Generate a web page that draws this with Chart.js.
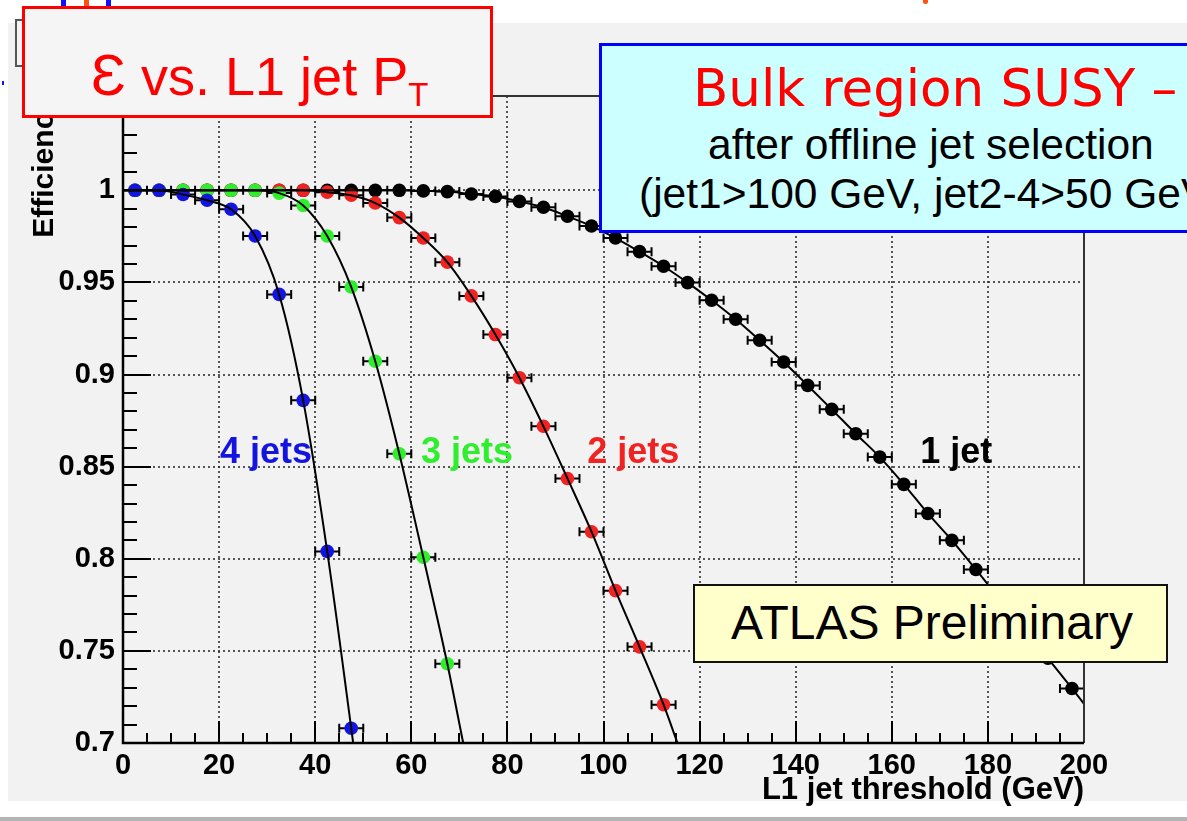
<!DOCTYPE html>
<html>
<head>
<meta charset="utf-8">
<title>Efficiency vs. L1 jet threshold</title>
<script src="https://cdn.jsdelivr.net/npm/chart.js@4.4.1/dist/chart.umd.min.js"></script>
<style>
  html, body { margin: 0; padding: 0; background: #fff; }
  body { width: 1187px; height: 821px; position: relative; overflow: hidden; font-family: 'Liberation Sans', Arial, sans-serif; }
  #panel { position: absolute; left: 8px; top: 23px; width: 1179px; height: 778px; background: #f2f2f2; }
  #bottomLine { position: absolute; left: 0; top: 817px; width: 1187px; height: 4px; background: #b4b4b4; }
  #wrap { position: absolute; left: 0; top: 0; width: 1187px; height: 821px; }
  .box { position: absolute; box-sizing: border-box; }
  .mark { position: absolute; }
  #rootTitle { left: 15px; top: 19px; width: 90px; height: 48px; border: 2px solid #555; background: #f4f4f4; }
  #titleBox { left: 22px; top: 6px; width: 471px; height: 112px; border: 3px solid #ff0000; background: #f5f5f5; }
  #selBox { left: 599px; top: 43px; width: 640px; height: 190px; border: 3px solid #0000ff; background: #ccffff; }
  #atlasBox { left: 693px; top: 584px; width: 475px; height: 79px; border: 2px solid #111; background: #ffffcc; }
  .txt { position: absolute; white-space: nowrap; line-height: 1; }
</style>
</head>
<body>
<div id="panel"></div>
<div id="bottomLine"></div>

<!-- leftovers of the slide around the plot -->
<div class="mark" style="left:61px;top:0;width:5px;height:6px;background:#1010ff"></div>
<div class="mark" style="left:84px;top:0;width:5px;height:7px;background:#ff5010"></div>
<div class="mark" style="left:106px;top:0;width:5px;height:6px;background:#1010ff"></div>
<div class="mark" style="left:2px;top:81px;width:2px;height:4px;background:#1010ff"></div>
<div class="mark" style="left:923px;top:0;width:5px;height:4px;background:#ff5010;border-radius:0 0 3px 3px"></div>

<div class="box" id="rootTitle"></div>

<div id="wrap"><canvas id="effChart"></canvas></div>

<div class="box" id="titleBox"></div>
<div class="txt" style="left:91px;top:46px;font-size:54px;color:#ff0000"><span style="font-size:58px">Ɛ</span> vs. L1 jet P<span style="font-size:33px;position:relative;top:11px">T</span></div>

<div class="box" id="selBox"></div>
<div class="txt" style="left:693px;top:62px;font-size:52px;color:#ff0000;font-family:'Comic Sans MS','DejaVu Sans',sans-serif;transform:scaleX(0.99);transform-origin:left">Bulk region SUSY –</div>
<div class="txt" style="left:708px;top:124px;font-size:42.5px;color:#000">after offline jet selection</div>
<div class="txt" style="left:639px;top:173px;font-size:42.5px;color:#000">(jet1&gt;100 GeV, jet2-4&gt;50 GeV)</div>

<div class="box" id="atlasBox"></div>
<div class="txt" style="left:731px;top:599px;font-size:48px;color:#000">ATLAS Preliminary</div>

<script>
// bin centres of the L1 threshold scan (GeV), 5 GeV bins
const binCenters = [2.5, 7.5, 12.5, 17.5, 22.5, 27.5, 32.5, 37.5, 42.5, 47.5,
  52.5, 57.5, 62.5, 67.5, 72.5, 77.5, 82.5, 87.5, 92.5, 97.5,
  102.5, 107.5, 112.5, 117.5, 122.5, 127.5, 132.5, 137.5, 142.5, 147.5,
  152.5, 157.5, 162.5, 167.5, 172.5, 177.5, 182.5, 187.5, 192.5, 197.5];
const binHalfWidth = 2.5;

// efficiencies
const eff4jets = [1, 1, 0.9977, 0.9946, 0.9897, 0.9752, 0.9435, 0.886, 0.804, 0.708];
const eff3jets = [1, 1, 1, 1, 1, 1, 0.9985, 0.9918, 0.9752, 0.9475, 0.9072, 0.857, 0.8008, 0.743];
const eff2jets = [1, 1, 1, 1, 1, 1, 1, 1, 0.999, 0.9973, 0.9931, 0.9852, 0.9741, 0.961,
  0.9427, 0.9217, 0.8983, 0.8719, 0.8436, 0.8147, 0.7827, 0.7522, 0.7208];
const eff1jet = [1, 1, 1, 1, 1, 1, 1, 1, 1, 1, 1, 1, 0.9997, 0.9993, 0.998, 0.9967,
  0.994, 0.9908, 0.9859, 0.9806, 0.9741, 0.9667, 0.9588, 0.9499, 0.9403, 0.930,
  0.9186, 0.9068, 0.8941, 0.8811, 0.8679, 0.8552, 0.8404, 0.8246, 0.81, 0.7942,
  0.778, 0.762, 0.746, 0.7296];

// where each fit curve leaves the frame [x, y]
const fitEnd4 = [47.9, 0.7];
const fitEnd3 = [70.8, 0.7];
const fitEnd2 = [115.4, 0.7];
const fitEnd1 = [200, 0.7213];

const seriesNames = ['4 jets', '3 jets', '2 jets', '1 jet'];
const seriesColors = ['#1414e0', '#2eee2e', '#f02222', '#000000'];

const xTickValues = [0, 20, 40, 60, 80, 100, 120, 140, 160, 180, 200];
const xTickLabels = ['0', '20', '40', '60', '80', '100', '120', '140', '160', '180', '200'];
const yTickValues = [0.7, 0.75, 0.8, 0.85, 0.9, 0.95, 1];
const yTickLabels = ['0.7', '0.75', '0.8', '0.85', '0.9', '0.95', '1'];

const FONT = "'Liberation Sans', Arial, sans-serif";

function toPoints(vals) {
  return vals.map((v, i) => ({ x: binCenters[i], y: v }));
}
function fitPoints(vals, end) {
  return [{ x: 0, y: 1 }].concat(toPoints(vals), [{ x: end[0], y: end[1] }]);
}

const effSets = [eff4jets, eff3jets, eff2jets, eff1jet];
const fitEnds = [fitEnd4, fitEnd3, fitEnd2, fitEnd1];

const datasets = [];
// fit curves on top
effSets.forEach((vals, i) => {
  datasets.push({
    label: seriesNames[i] + ' fit',
    data: fitPoints(vals, fitEnds[i]),
    showLine: true,
    borderColor: '#000',
    borderWidth: 2,
    pointRadius: 0,
    cubicInterpolationMode: 'monotone',
    order: 0
  });
});
// markers, 4 jets drawn last (on top)
effSets.forEach((vals, i) => {
  datasets.push({
    label: seriesNames[i],
    data: toPoints(vals),
    showLine: false,
    backgroundColor: seriesColors[i],
    borderWidth: 0,
    pointRadius: 6.8,
    pointHoverRadius: 6.8,
    isMarker: true,
    order: i + 1
  });
});

// label anchors (data coordinates, left/baseline)
const labelAnchors = [
  { x: 20.2, y: 0.852 },
  { x: 62.0, y: 0.852 },
  { x: 96.6, y: 0.852 },
  { x: 165.9, y: 0.852 }
];

const rootFrame = {
  id: 'rootFrame',
  beforeDatasetsDraw(chart) {
    const { ctx, chartArea: a, scales: { x, y } } = chart;
    ctx.save();
    // dotted grid
    ctx.strokeStyle = '#222';
    ctx.lineWidth = 1.5;
    ctx.setLineDash([2, 3]);
    ctx.beginPath();
    xTickValues.forEach(v => {
      if (v <= x.min || v >= x.max) return;
      const px = Math.round(x.getPixelForValue(v));
      ctx.moveTo(px, a.top); ctx.lineTo(px, a.bottom);
    });
    yTickValues.forEach(v => {
      if (v <= y.min || v >= y.max) return;
      const py = Math.round(y.getPixelForValue(v));
      ctx.moveTo(a.left, py); ctx.lineTo(a.right, py);
    });
    ctx.stroke();
    ctx.setLineDash([]);

    // horizontal error bars
    ctx.beginPath();
    ctx.rect(a.left, a.top, a.width, a.height);
    ctx.clip();
    ctx.strokeStyle = '#000';
    ctx.lineWidth = 2;
    ctx.beginPath();
    chart.data.datasets.forEach(ds => {
      if (!ds.isMarker) return;
      ds.data.forEach(p => {
        const x1 = x.getPixelForValue(p.x - binHalfWidth);
        const x2 = x.getPixelForValue(p.x + binHalfWidth);
        const py = y.getPixelForValue(p.y);
        ctx.moveTo(x1, py); ctx.lineTo(x2, py);
        ctx.moveTo(x1, py - 4.5); ctx.lineTo(x1, py + 4.5);
        ctx.moveTo(x2, py - 4.5); ctx.lineTo(x2, py + 4.5);
      });
    });
    ctx.stroke();
    ctx.restore();
  },
  afterDatasetsDraw(chart) {
    const { ctx, chartArea: a, scales: { x, y } } = chart;
    ctx.save();
    // inner ticks, ROOT style
    ctx.strokeStyle = '#000';
    ctx.lineWidth = 2;
    ctx.beginPath();
    for (let k = 0; k <= 40; k++) {
      const px = Math.round(x.getPixelForValue(k * 5));
      const len = k % 4 === 0 ? 22 : 10;
      ctx.moveTo(px, a.bottom); ctx.lineTo(px, a.bottom - len);
    }
    for (let k = 70; k <= 105; k++) {
      const py = Math.round(y.getPixelForValue(k / 100));
      const len = k % 5 === 0 ? 28 : 14;
      ctx.moveTo(a.left, py); ctx.lineTo(a.left + len, py);
    }
    ctx.stroke();

    // frame
    ctx.lineWidth = 2;
    ctx.strokeStyle = '#333';
    ctx.beginPath();
    ctx.moveTo(a.left, a.top); ctx.lineTo(a.right, a.top); ctx.lineTo(a.right, a.bottom);
    ctx.stroke();
    ctx.lineWidth = 2.5;
    ctx.strokeStyle = '#000';
    ctx.beginPath();
    ctx.moveTo(a.left, a.top); ctx.lineTo(a.left, a.bottom); ctx.lineTo(a.right, a.bottom);
    ctx.stroke();

    // series labels
    ctx.font = 'bold 36px ' + FONT;
    ctx.textAlign = 'left';
    ctx.textBaseline = 'alphabetic';
    seriesNames.forEach((name, i) => {
      ctx.fillStyle = seriesColors[i];
      ctx.fillText(name, x.getPixelForValue(labelAnchors[i].x), y.getPixelForValue(labelAnchors[i].y));
    });
    ctx.restore();
  }
};

new Chart(document.getElementById('effChart'), {
  type: 'scatter',
  data: { datasets },
  options: {
    responsive: true,
    maintainAspectRatio: false,
    animation: false,
    events: [],
    layout: { padding: { left: 0, top: 96, right: 103, bottom: 0 } },
    plugins: { legend: { display: false }, tooltip: { enabled: false } },
    scales: {
      x: {
        type: 'linear',
        min: 0,
        max: 200,
        grid: { display: false, drawTicks: false },
        border: { display: false },
        afterBuildTicks: s => { s.ticks = xTickValues.map(v => ({ value: v })); },
        afterFit: s => { s.height = 78; },
        ticks: {
          callback: (v, i) => xTickLabels[i],
          font: { family: FONT, size: 29, weight: 'bold' },
          color: '#000',
          padding: 6,
          maxRotation: 0,
          autoSkip: false
        },
        title: {
          display: true,
          text: 'L1 jet threshold (GeV)',
          align: 'end',
          color: '#000',
          font: { family: FONT, size: 31, weight: 'bold' },
          padding: { top: 0, bottom: 12 }
        }
      },
      y: {
        type: 'linear',
        min: 0.7,
        max: 1.0512,
        grid: { display: false, drawTicks: false },
        border: { display: false },
        afterBuildTicks: s => { s.ticks = yTickValues.map(v => ({ value: v })); },
        afterFit: s => { s.width = 123; },
        ticks: {
          callback: (v, i) => yTickLabels[i],
          font: { family: FONT, size: 29, weight: 'bold' },
          color: '#000',
          padding: 8,
          autoSkip: false
        },
        title: {
          display: true,
          text: 'Efficiency',
          align: 'end',
          color: '#000',
          font: { family: FONT, size: 30, weight: 'bold' },
          padding: { top: 27, bottom: 0 }
        }
      }
    }
  },
  plugins: [rootFrame]
});
</script>
</body>
</html>
